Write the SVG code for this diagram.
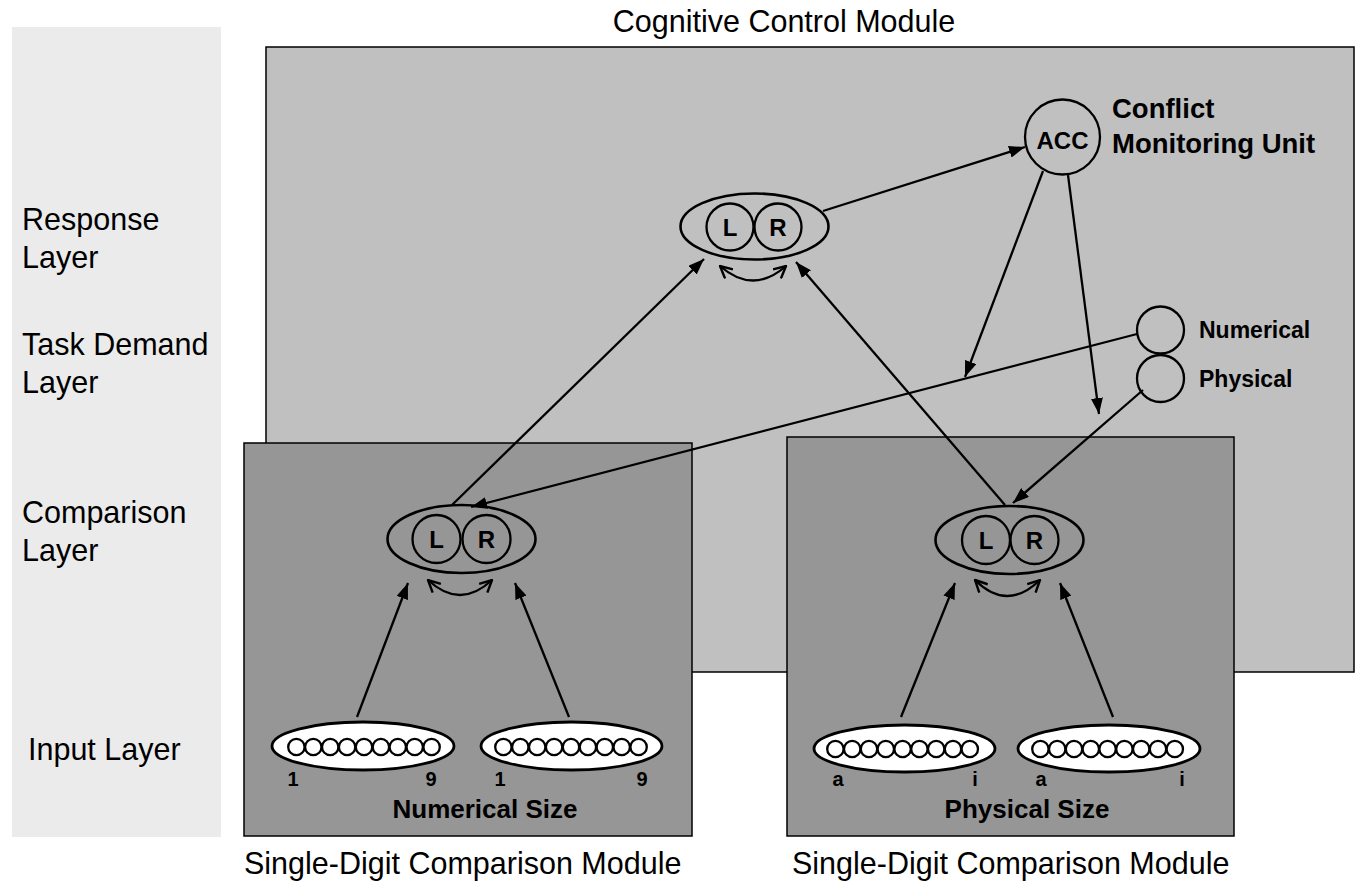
<svg xmlns="http://www.w3.org/2000/svg" width="1357" height="882" viewBox="0 0 1357 882">
<defs>
<style>
.reg{font-family:"Liberation Sans",Arial,sans-serif;font-size:30.5px;fill:#000}
.b{font-family:"Liberation Sans",Arial,sans-serif;font-weight:bold;fill:#000}
.ln{stroke:#000;stroke-width:2.3;fill:none}
.el{stroke:#000;stroke-width:2.6;fill:none}
.cc{stroke:#000;stroke-width:2.3;fill:none}
.inp{stroke:#000;stroke-width:2.8;fill:#fff}
.dot{stroke:#000;stroke-width:2.3;fill:#fff}
</style>
<marker id="ah" viewBox="0 0 16 12" refX="16" refY="6" markerWidth="16" markerHeight="12" markerUnits="userSpaceOnUse" orient="auto">
<path d="M0,0 L16,6 L0,12 Z" fill="#000"/>
</marker>
<marker id="va" viewBox="0 0 14 14" refX="13" refY="7" markerWidth="14" markerHeight="14" markerUnits="userSpaceOnUse" orient="auto-start-reverse">
<path d="M1,1 L13,7 L1,13" fill="none" stroke="#000" stroke-width="2.4"/>
</marker>
</defs>
<rect width="1357" height="882" fill="#fff"/>
<g id="layer-labels">
<rect x="12" y="27" width="209" height="810" fill="#ebebeb"/>
<text class="reg" x="22" y="230">Response</text>
<text class="reg" x="22" y="268">Layer</text>
<text class="reg" x="22" y="355">Task Demand</text>
<text class="reg" x="22" y="393">Layer</text>
<text class="reg" x="22" y="523">Comparison</text>
<text class="reg" x="22" y="561">Layer</text>
<text class="reg" x="28" y="760">Input Layer</text>
</g>
<g id="cognitive-control">
<rect x="266" y="47" width="1088" height="625" fill="#c0c0c0" stroke="#000" stroke-width="1.5"/>
<text class="reg" x="784" y="32" text-anchor="middle">Cognitive Control Module</text>
</g>
<g id="module-numerical">
<rect x="244" y="443" width="448" height="393" fill="#969696" stroke="#000" stroke-width="1.5"/>
<text class="reg" x="244" y="874">Single-Digit Comparison Module</text>
<text class="b" x="485" y="818" font-size="26" text-anchor="middle">Numerical Size</text>
</g>
<g id="module-physical">
<rect x="787" y="437" width="447" height="399" fill="#969696" stroke="#000" stroke-width="1.5"/>
<text class="reg" x="792" y="874">Single-Digit Comparison Module</text>
<text class="b" x="1027" y="818" font-size="26" text-anchor="middle">Physical Size</text>
</g>
<g id="response-layer">
<ellipse class="el" cx="754.5" cy="226.5" rx="74" ry="33"/>
<circle class="cc" cx="730" cy="227" r="23.5"/>
<circle class="cc" cx="778" cy="227" r="23.5"/>
<text class="b" x="730" y="236" font-size="24" text-anchor="middle">L</text>
<text class="b" x="778" y="236" font-size="24" text-anchor="middle">R</text>
</g>
<g id="acc">
<circle class="cc" cx="1062.5" cy="137" r="37.5"/>
<text class="b" x="1062.5" y="149" font-size="24" text-anchor="middle">ACC</text>
<text class="b" x="1112" y="118" font-size="27.5">Conflict</text>
<text class="b" x="1112" y="153" font-size="27.5">Monitoring Unit</text>
</g>
<g id="task-demand">
<circle class="cc" cx="1160.5" cy="330" r="23.5"/>
<circle class="cc" cx="1160.5" cy="378.5" r="23.5"/>
<text class="b" x="1199" y="338" font-size="23">Numerical</text>
<text class="b" x="1199" y="387" font-size="23">Physical</text>
</g>
<g id="comparison-numerical">
<ellipse class="el" cx="461.5" cy="539" rx="74" ry="34"/>
<circle class="cc" cx="436.5" cy="539" r="24"/>
<circle class="cc" cx="486.5" cy="539" r="24"/>
<text class="b" x="436.5" y="548" font-size="24" text-anchor="middle">L</text>
<text class="b" x="486.5" y="548" font-size="24" text-anchor="middle">R</text>
</g>
<g id="comparison-physical">
<ellipse class="el" cx="1009.5" cy="540" rx="74" ry="34"/>
<circle class="cc" cx="986" cy="540" r="24"/>
<circle class="cc" cx="1034.5" cy="540" r="24"/>
<text class="b" x="986" y="549" font-size="24" text-anchor="middle">L</text>
<text class="b" x="1034.5" y="549" font-size="24" text-anchor="middle">R</text>
</g>
<g id="input-numerical-1">
<ellipse class="inp" cx="363" cy="746" rx="91" ry="24"/>
<circle class="dot" cx="296.4" cy="747" r="8.2"/><circle class="dot" cx="313.3" cy="747" r="8.2"/><circle class="dot" cx="330.2" cy="747" r="8.2"/><circle class="dot" cx="347.1" cy="747" r="8.2"/><circle class="dot" cx="364" cy="747" r="8.2"/><circle class="dot" cx="380.9" cy="747" r="8.2"/><circle class="dot" cx="397.8" cy="747" r="8.2"/><circle class="dot" cx="414.7" cy="747" r="8.2"/><circle class="dot" cx="431.6" cy="747" r="8.2"/>
<text class="b" x="293" y="786" font-size="20" text-anchor="middle">1</text>
<text class="b" x="431" y="786" font-size="20" text-anchor="middle">9</text>
</g>
<g id="input-numerical-2">
<ellipse class="inp" cx="571.5" cy="746" rx="90.5" ry="24"/>
<circle class="dot" cx="503.4" cy="747" r="8.2"/><circle class="dot" cx="520.3" cy="747" r="8.2"/><circle class="dot" cx="537.2" cy="747" r="8.2"/><circle class="dot" cx="554.1" cy="747" r="8.2"/><circle class="dot" cx="571" cy="747" r="8.2"/><circle class="dot" cx="587.9" cy="747" r="8.2"/><circle class="dot" cx="604.8" cy="747" r="8.2"/><circle class="dot" cx="621.7" cy="747" r="8.2"/><circle class="dot" cx="638.6" cy="747" r="8.2"/>
<text class="b" x="500" y="786" font-size="20" text-anchor="middle">1</text>
<text class="b" x="642" y="786" font-size="20" text-anchor="middle">9</text>
</g>
<g id="input-physical-1">
<ellipse class="inp" cx="904.5" cy="748.5" rx="90.5" ry="23.5"/>
<circle class="dot" cx="835.4" cy="749" r="8.2"/><circle class="dot" cx="852.2" cy="749" r="8.2"/><circle class="dot" cx="869" cy="749" r="8.2"/><circle class="dot" cx="885.8" cy="749" r="8.2"/><circle class="dot" cx="902.6" cy="749" r="8.2"/><circle class="dot" cx="919.4" cy="749" r="8.2"/><circle class="dot" cx="936.2" cy="749" r="8.2"/><circle class="dot" cx="953" cy="749" r="8.2"/><circle class="dot" cx="969.8" cy="749" r="8.2"/>
<text class="b" x="838" y="786" font-size="20" text-anchor="middle">a</text>
<text class="b" x="975" y="786" font-size="20" text-anchor="middle">i</text>
</g>
<g id="input-physical-2">
<ellipse class="inp" cx="1109" cy="748.5" rx="91" ry="23.5"/>
<circle class="dot" cx="1040.4" cy="749" r="8.2"/><circle class="dot" cx="1057.2" cy="749" r="8.2"/><circle class="dot" cx="1074" cy="749" r="8.2"/><circle class="dot" cx="1090.8" cy="749" r="8.2"/><circle class="dot" cx="1107.6" cy="749" r="8.2"/><circle class="dot" cx="1124.4" cy="749" r="8.2"/><circle class="dot" cx="1141.2" cy="749" r="8.2"/><circle class="dot" cx="1158" cy="749" r="8.2"/><circle class="dot" cx="1174.8" cy="749" r="8.2"/>
<text class="b" x="1041" y="786" font-size="20" text-anchor="middle">a</text>
<text class="b" x="1182" y="786" font-size="20" text-anchor="middle">i</text>
</g>
<g id="connectors">
<path class="ln" d="M720,266 Q753,295 786,266" marker-start="url(#va)" marker-end="url(#va)"/>
<path class="ln" d="M428,580 Q460,610 492,580" marker-start="url(#va)" marker-end="url(#va)"/>
<path class="ln" d="M975,580 Q1007,612 1040,580" marker-start="url(#va)" marker-end="url(#va)"/>
<line class="ln" x1="452" y1="505" x2="704" y2="259" marker-end="url(#ah)"/>
<line class="ln" x1="1005" y1="505" x2="796" y2="262" marker-end="url(#ah)"/>
<line class="ln" x1="823" y1="211" x2="1025" y2="147" marker-end="url(#ah)"/>
<line class="ln" x1="1043" y1="171" x2="965" y2="377" marker-end="url(#ah)"/>
<line class="ln" x1="1068" y1="175" x2="1099" y2="414" marker-end="url(#ah)"/>
<line class="ln" x1="1137" y1="334" x2="471" y2="507" marker-end="url(#ah)"/>
<line class="ln" x1="1143" y1="390" x2="1013" y2="503" marker-end="url(#ah)"/>
<line class="ln" x1="357" y1="717" x2="408" y2="583" marker-end="url(#ah)"/>
<line class="ln" x1="569" y1="717" x2="515" y2="583" marker-end="url(#ah)"/>
<line class="ln" x1="901" y1="717" x2="955" y2="583" marker-end="url(#ah)"/>
<line class="ln" x1="1113" y1="717" x2="1060" y2="583" marker-end="url(#ah)"/>
</g>
</svg>
